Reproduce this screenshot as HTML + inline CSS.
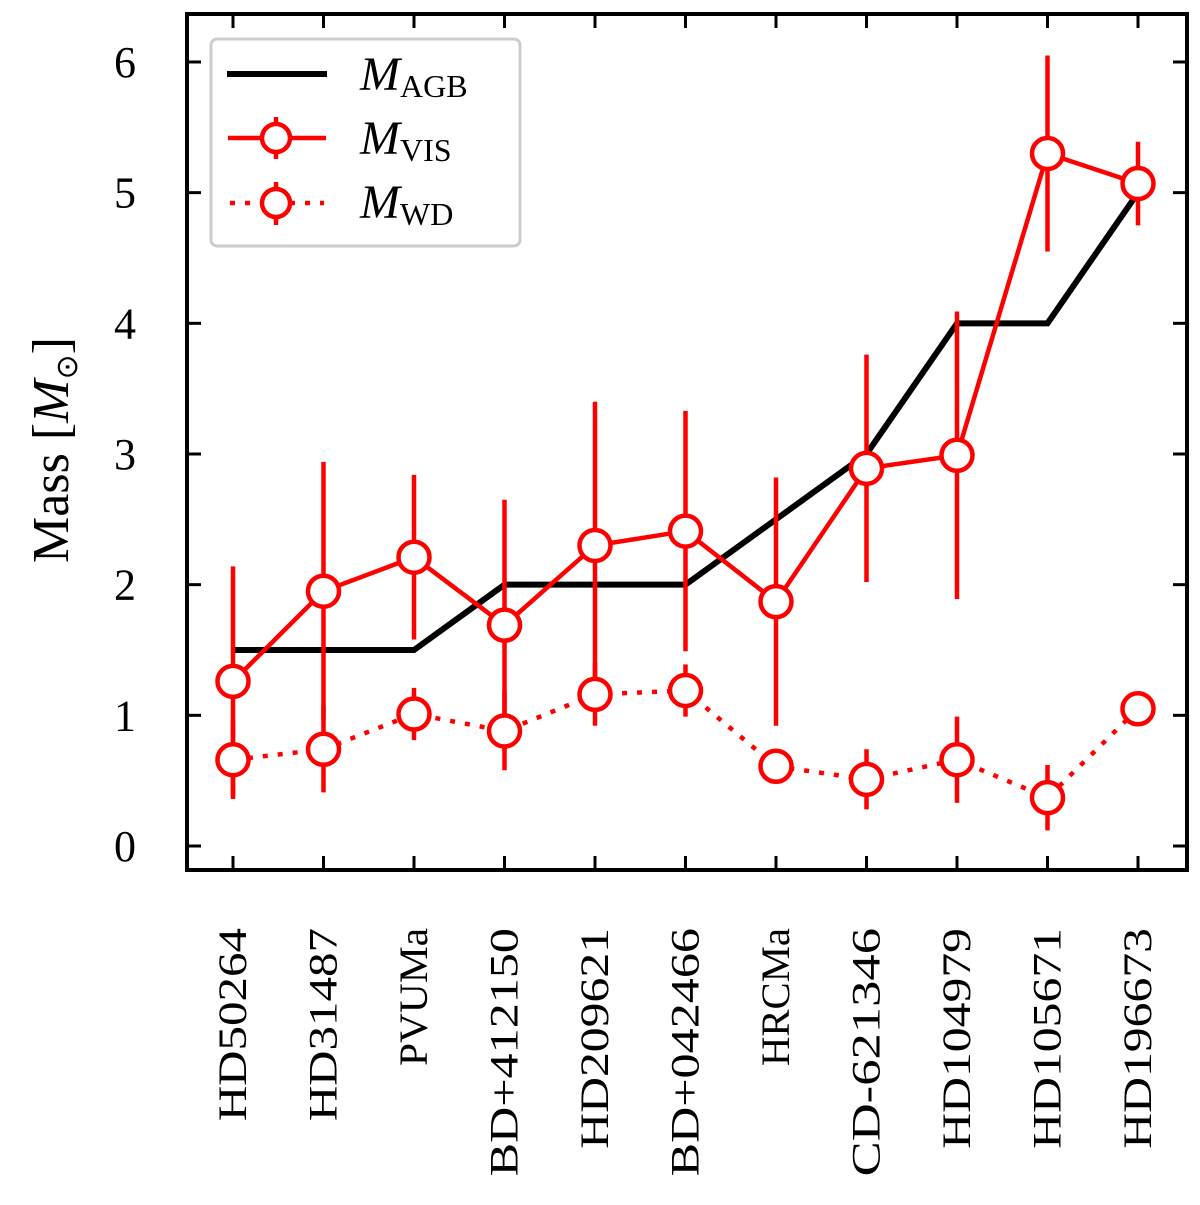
<!DOCTYPE html>
<html><head><meta charset="utf-8"><style>
html,body{margin:0;padding:0;background:#fff;}
svg text{font-family:"Liberation Serif",serif;}
</style></head><body>
<svg id="chart" width="1200" height="1200" viewBox="0 0 1200 1200" xmlns="http://www.w3.org/2000/svg"></svg>
<script>
const categories=["HD50264","HD31487","PVUMa","BD+412150","HD209621","BD+042466","HRCMa","CD-621346","HD104979","HD105671","HD196673"];
const agbValues=[1.5,1.5,1.5,2,2,2,2.5,3,4,4,5];
const visValues=[1.26,1.95,2.21,1.69,2.30,2.41,1.87,2.89,2.99,5.30,5.07];
const visErrors=[0.88,0.99,0.63,0.96,1.1,0.92,0.95,0.87,1.1,0.75,0.32];
const wdValues=[0.66,0.74,1.01,0.88,1.16,1.19,0.61,0.51,0.66,0.37,1.05];
const wdErrors=[0.3,0.33,0.2,0.3,0.24,0.2,0.12,0.23,0.33,0.25,0.05];
const yTicks=[0,1,2,3,4,5,6];

const NS="http://www.w3.org/2000/svg";
const svg=document.getElementById('chart');
const L=187,R=1187,T=14,B=870;
function xs(i){return 233+i*90.5;}
function ys(v){return 846-v*130.67;}
function mk(tag,attrs,parent){const e=document.createElementNS(NS,tag);for(const k in attrs)e.setAttribute(k,attrs[k]);(parent||svg).appendChild(e);return e;}

const tickG=mk('g',{});


yTicks.forEach(v=>{
  mk('line',{x1:L,x2:L+14,y1:ys(v),y2:ys(v),stroke:'#000','stroke-width':3},tickG);
  mk('line',{x1:R-14,x2:R,y1:ys(v),y2:ys(v),stroke:'#000','stroke-width':3},tickG);
  const t=mk('text',{x:136,y:ys(v)+15,'font-size':44,'text-anchor':'end'},tickG);
  t.textContent=v;
  
  
});
categories.forEach((c,i)=>{
  mk('line',{x1:xs(i),x2:xs(i),y1:T,y2:T+14,stroke:'#000','stroke-width':3},tickG);
  mk('line',{x1:xs(i),x2:xs(i),y1:B-14,y2:B,stroke:'#000','stroke-width':3},tickG);
  const t=mk('text',{x:0,y:0,'font-size':40,'text-anchor':'end',textLength:c.length*27.6,lengthAdjust:'spacingAndGlyphs',transform:`translate(${xs(i)+13},928) rotate(-90)`},tickG);
  t.textContent=c;
  
  
});

const agb=mk('polyline',{points:agbValues.map((v,i)=>xs(i)+','+ys(v)).join(' '),fill:'none',stroke:'#000','stroke-width':6,'stroke-linejoin':'miter'});



function series(vals,errs,dash,name){
  const g=mk('g',{});
  
  
  vals.forEach((v,i)=>{
    const e=mk('line',{x1:xs(i),x2:xs(i),y1:ys(v+errs[i]),y2:ys(v-errs[i]),stroke:'#f00','stroke-width':4.5},g);
    
    
  });
  const p=mk('polyline',{points:vals.map((v,i)=>xs(i)+','+ys(v)).join(' '),fill:'none',stroke:'#f00','stroke-width':4.5},g);
  if(dash)p.setAttribute('stroke-dasharray',dash);
  vals.forEach((v,i)=>{
    const c=mk('circle',{cx:xs(i),cy:ys(v),r:15.5,fill:'#fff',stroke:'#f00','stroke-width':4.5},g);
    
    
  });
}
series(visValues,visErrors,null,'vis-series');
series(wdValues,wdErrors,'5 10','wd-series');

const fr=mk('rect',{x:L,y:T,width:R-L,height:B-T,fill:'none',stroke:'#000','stroke-width':4});



const yt=mk('text',{x:0,y:0,'font-size':52,'text-anchor':'middle',transform:'translate(68,450) rotate(-90)'});
yt.innerHTML='Mass [<tspan font-style="italic">M</tspan><tspan font-size="30" dy="9">⊙</tspan><tspan dy="-9">]</tspan>';



const lg=mk('g',{});


mk('rect',{x:211,y:39,width:309,height:207,rx:6,fill:'#fff','fill-opacity':0.9,stroke:'#ccc','stroke-width':3},lg);
mk('line',{x1:227,x2:327,y1:74,y2:74,stroke:'#000','stroke-width':6},lg);
mk('line',{x1:228,x2:326,y1:138,y2:138,stroke:'#f00','stroke-width':4.5},lg);
mk('line',{x1:276,x2:276,y1:117,y2:159,stroke:'#f00','stroke-width':4.5},lg);
mk('circle',{cx:276,cy:138,r:14,fill:'#fff',stroke:'#f00','stroke-width':4.5},lg);
mk('line',{x1:230,x2:324,y1:203,y2:203,stroke:'#f00','stroke-width':4.5,'stroke-dasharray':'5 10'},lg);
mk('line',{x1:276,x2:276,y1:182,y2:225,stroke:'#f00','stroke-width':4.5},lg);
mk('circle',{cx:276,cy:203,r:14,fill:'#fff',stroke:'#f00','stroke-width':4.5},lg);
[['AGB',90],['VIS',154],['WD',218]].forEach(([s,y])=>{
  const t=mk('text',{x:360,y:y,'font-size':48},lg);
  t.innerHTML='<tspan font-style="italic">M</tspan><tspan font-size="32" dy="7">'+s+'</tspan>';
  
  
});
</script>
</body></html>
